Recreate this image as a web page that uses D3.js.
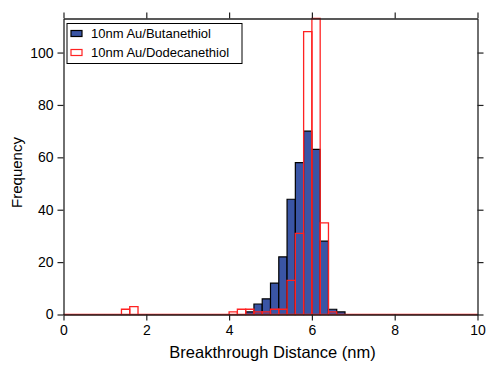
<!DOCTYPE html>
<html>
<head>
<meta charset="utf-8">
<script src="https://cdnjs.cloudflare.com/ajax/libs/d3/7.8.5/d3.min.js"></script>
<style>
  body { margin: 0; background: #fff; }
  text { font-family: "Liberation Sans", Arial, Helvetica, sans-serif; fill: #000; }
</style>
</head>
<body>
<div class="canva"></div>
<script>
// histogram bins are 0.2 nm wide, only non-zero bins listed
const binWidth = 0.2;
const butBins   = [4.4, 4.6, 4.8, 5.0, 5.2, 5.4, 5.6, 5.8, 6.0, 6.2, 6.4, 6.6];
const butCounts = [1, 4, 6, 12, 22, 44, 58, 70, 63, 28, 2, 1];
const dodBins   = [1.4, 1.6, 4.0, 4.2, 4.4, 4.6, 4.8, 5.0, 5.2, 5.4, 5.6, 5.8, 6.0, 6.2, 6.4];
const dodCounts = [2, 3, 1, 2, 2, 1, 1, 2, 2, 13, 31, 108, 113, 35, 1];
const xTicks = [0, 2, 4, 6, 8, 10];
const yTicks = [0, 20, 40, 60, 80, 100];
const seriesNames = ["10nm Au/Butanethiol", "10nm Au/Dodecanethiol"];

const width = 488, height = 365;
const margin = {top: 18.5, right: 10.5, bottom: 50.5, left: 63.5};
const graphWidth = width - margin.left - margin.right;
const graphHeight = height - margin.top - margin.bottom;

const svg = d3.select(".canva").append("svg")
    .attr("width", width)
    .attr("height", height);

const g = svg.append("g")
    .attr("transform", `translate(${margin.left}, ${margin.top})`);

const x = d3.scaleLinear().domain([0, 10]).range([0, graphWidth]);
const y = d3.scaleLinear().domain([0, 113]).range([graphHeight, 0]);

// every bin from 0 to 10; empty ones are drawn flat on the baseline
const nBins = Math.round(10 / binWidth);
function fullSeries(bins, counts) {
  return d3.range(nBins).map(i => {
    const x0 = +(i * binWidth).toFixed(1);
    const k = bins.findIndex(b => Math.abs(b - x0) < 1e-6);
    return {x0, x1: x0 + binWidth, v: k < 0 ? 0 : counts[k]};
  });
}
const butData = fullSeries(butBins, butCounts);
const dodData = fullSeries(dodBins, dodCounts);

const barPath = d => `M${x(d.x0)},${y(0)}V${y(d.v)}H${x(d.x1)}V${y(0)}Z`;

g.selectAll("path.but")
  .data(butData)
  .join("path")
    .attr("class", "but")
    .attr("d", barPath)
    .attr("fill", "#3a55a5")
    .attr("stroke", "#000")
    .attr("stroke-width", 1.2);

g.selectAll("path.dod")
  .data(dodData)
  .join("path")
    .attr("class", "dod")
    .attr("d", barPath)
    .attr("fill", "none")
    .attr("stroke", "#ff2222")
    .attr("stroke-width", 1.3);

// axes (mirrored on all four sides, ticks outside)
const axisStyle = sel => {
  sel.select(".domain").attr("stroke", "#222").attr("stroke-width", 1.3);
  sel.selectAll(".tick line").attr("stroke", "#222").attr("stroke-width", 1.2);
  sel.selectAll(".tick text").style("font-size", "14px")
     .style("font-family", '"Liberation Sans", Arial, sans-serif');
};

g.append("g")
  .attr("transform", `translate(0, ${graphHeight})`)
  .call(d3.axisBottom(x).tickValues(xTicks).tickSize(6).tickSizeOuter(0).tickPadding(5))
  .call(axisStyle);

g.append("g")
  .call(d3.axisTop(x).tickValues(xTicks).tickSize(6).tickSizeOuter(0).tickFormat(""))
  .call(axisStyle);

g.append("g")
  .call(d3.axisLeft(y).tickValues(yTicks).tickSize(6).tickSizeOuter(0).tickPadding(4))
  .call(axisStyle);

g.append("g")
  .attr("transform", `translate(${graphWidth}, 0)`)
  .call(d3.axisRight(y).tickValues(yTicks).tickSize(6).tickSizeOuter(0).tickFormat(""))
  .call(axisStyle);

// axis titles
svg.append("text")
  .attr("x", margin.left + graphWidth / 2 + 2)
  .attr("y", 358)
  .attr("text-anchor", "middle")
  .style("font-size", "16.5px")
  .text("Breakthrough Distance (nm)");

svg.append("text")
  .attr("transform", `translate(22, ${margin.top + graphHeight / 2 + 6}) rotate(-90)`)
  .attr("text-anchor", "middle")
  .style("font-size", "15px")
  .text("Frequency");

// legend
const legend = svg.append("g").attr("transform", "translate(67, 23.5)");
legend.append("rect")
  .attr("width", 175).attr("height", 40)
  .attr("fill", "#fff").attr("stroke", "#000").attr("stroke-width", 1);

const legendStyles = [
  {fill: "#3a55a5", stroke: "#000"},
  {fill: "#fff", stroke: "#ff2222"}
];
const items = legend.selectAll("g.item")
  .data(seriesNames)
  .join("g")
    .attr("class", "item")
    .attr("transform", (d, i) => `translate(0, ${7 + i * 19})`);

items.append("rect")
  .attr("x", 4).attr("y", 0)
  .attr("width", 11).attr("height", 6)
  .attr("fill", (d, i) => legendStyles[i].fill)
  .attr("stroke", (d, i) => legendStyles[i].stroke)
  .attr("stroke-width", 1.2);

items.append("text")
  .attr("x", 24).attr("y", 7.5)
  .style("font-size", "13px")
  .text(d => d);
</script>
</body>
</html>
